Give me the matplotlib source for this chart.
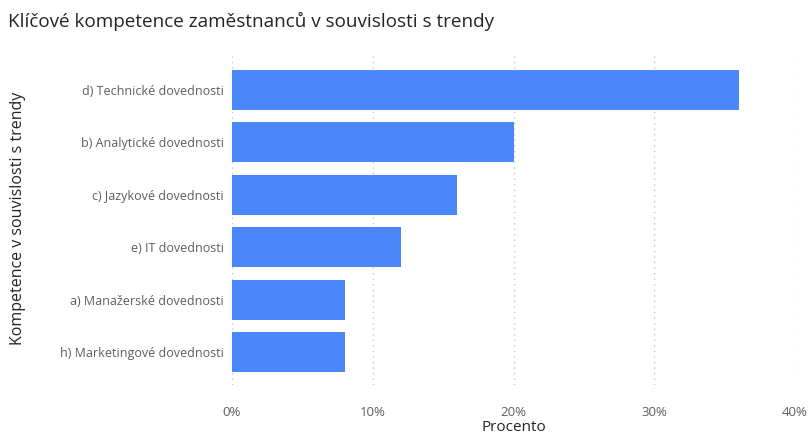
import matplotlib.pyplot as plt
from matplotlib.ticker import FuncFormatter

kategorie = ["d) Technické dovednosti", "b) Analytické dovednosti", "c) Jazykové dovednosti",
             "e) IT dovednosti", "a) Manažerské dovednosti", "h) Marketingové dovednosti"]
procenta = [36, 20, 16, 12, 8, 8]
x_ticks = [0, 10, 20, 30, 40]

plt.rcParams['font.family'] = ['Open Sans', 'DejaVu Sans']

fig = plt.figure(figsize=(8.11, 4.34), dpi=100)
ax = fig.add_axes([232/811, 1 - 385/434, (795-232)/811, (385-52)/434])

pos = list(range(len(kategorie)))
ax.barh(pos, procenta, height=0.76, color="#4a87fb", zorder=3)

ax.set_xlim(0, 40)
ax.set_ylim(5.63, -0.725)
ax.set_yticks(pos)
ax.set_yticklabels(kategorie, fontsize=9, color="#605e5c")
ax.set_xticks(x_ticks)
ax.xaxis.set_major_formatter(FuncFormatter(lambda v, p: f"{v:.0f}%"))
ax.tick_params(axis='x', labelsize=9.5, labelcolor="#605e5c", length=0, pad=15)
ax.tick_params(axis='y', length=0, pad=6)
ax.grid(axis='x', linestyle=(0, (1, 3)), color="#c8c8c8", linewidth=1, zorder=0)
for s in ax.spines.values():
    s.set_visible(False)

ax.set_xlabel("Procento", fontsize=11, color="#252423")
ax.xaxis.set_label_coords(0.5, -(420 - 385) / 333, transform=ax.transAxes)
ax.set_ylabel("Kompetence v souvislosti s trendy", fontsize=11.5, color="#252423")
ax.yaxis.set_label_coords(-(232 - 26) / 563, 0.5, transform=ax.transAxes)
fig.text(8/811, 1 - 21/434, "Klíčové kompetence zaměstnanců v souvislosti s trendy",
         fontsize=13.6, color="#252423", va='center', ha='left')

fig.savefig("out.png", dpi=100)
